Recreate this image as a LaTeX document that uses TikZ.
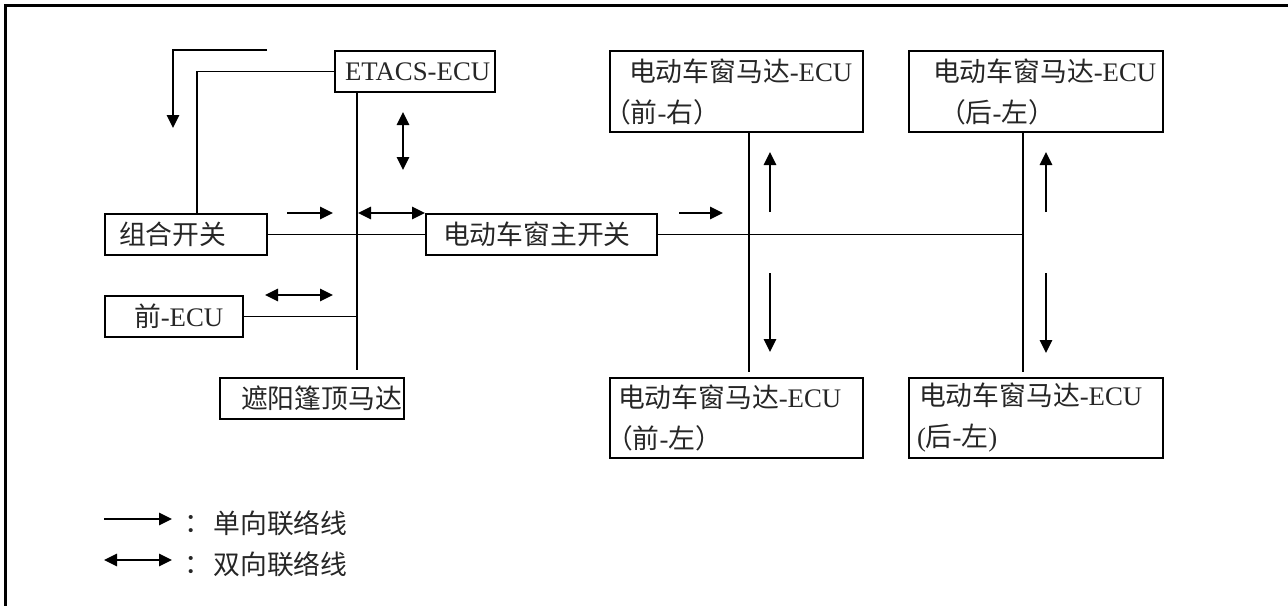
\documentclass[tikz,border=0pt]{standalone}
\usepackage{fontspec}
\setmainfont{Liberation Serif}
\newfontfamily\cjk{Noto Sans CJK SC}
\usetikzlibrary{arrows.meta}
\begin{document}
\begin{tikzpicture}[x=0.5pt,y=-0.5pt,
  box/.style={draw, line width=1pt, anchor=north west, inner xsep=0pt, inner ysep=0pt,
    align=left, text=black!85, font=\fontsize{13.4}{20.5}\selectfont},
  ln/.style={line width=0.9pt},
  ar/.style={line width=0.9pt, -{Triangle[length=6.5pt,width=6.2pt]}},
  dar/.style={line width=0.9pt, {Triangle[length=6.5pt,width=6.2pt]}-{Triangle[length=6.5pt,width=6.2pt]}},
  lbl/.style={inner sep=0pt, text=black!85, font=\fontsize{13.4}{15}\selectfont}]
\useasboundingbox (0,0) rectangle (1288,605);
% frame
\draw[line width=1.5pt] (5,610) -- (5,5) -- (1293,5);
% boxes
\node[box, text width=80pt, minimum height=20.5pt] (etacs) at (334,50) {\hspace*{5pt}ETACS-ECU};
\node[box, text width=81pt, minimum height=20.5pt] (zuhe) at (104,213) {\hspace*{7pt}{\cjk 组合开关}};
\node[box, text width=115.5pt, minimum height=20.5pt] (main) at (425,213) {\hspace*{8.5pt}{\cjk 电动车窗主开关}};
\node[box, text width=69pt, minimum height=20.5pt] (qian) at (104,295) {\hspace*{14.5pt}{\cjk 前}-ECU};
\node[box, text width=92pt, minimum height=20.5pt] (zheyang) at (219,377) {\hspace*{10.5pt}{\cjk 遮阳篷顶马达}};
\node[box, text width=126.5pt, minimum height=40.5pt] (fr) at (609,50)
  {\hspace*{9.5pt}{\cjk 电动车窗马达}-ECU\\\hspace*{-3pt}{\cjk （前}-{\cjk 右）}};
\node[box, text width=127pt, minimum height=40.5pt] (rlt) at (908,50)
  {\hspace*{12pt}{\cjk 电动车窗马达}-ECU\\\hspace*{15pt}{\cjk （后}-{\cjk 左）}};
\node[box, text width=126.5pt, minimum height=40pt] (fl) at (609,377)
  {\hspace*{4pt}{\cjk 电动车窗马达}-ECU\\\hspace*{-2pt}{\cjk （前}-{\cjk 左）}};
\node[box, text width=127pt, minimum height=40pt] (rlb) at (908,377)
  {\hspace*{5pt}{\cjk 电动车窗马达}-ECU\\\hspace*{4pt}({\cjk 后}-{\cjk 左})};
% helper coordinates
\coordinate (busB) at (357,370);
\coordinate (zt) at (197,0);
\coordinate (la) at (267,50);
\coordinate (lb) at (173,128);
\coordinate (vfr) at (749,372);
\coordinate (vrl) at (1023,372);
% connectors
\draw[ln] (busB |- etacs.south) -- (busB);
\draw[ln] (etacs.west) -| (zt |- zuhe.north);
\draw[ar] (la) -| (lb);
\draw[ln] (zuhe.east) -- (main.west);
\draw[ln] (qian.east) -- (busB |- qian.east);
\draw[ln] (main.east) -- (vrl |- main.east);
\draw[ln] (vfr |- fr.south) -- (vfr);
\draw[ln] (vrl |- rlt.south) -- (vrl);
% indicator arrows
\draw[ar] (287,213) -- (333,213);
\draw[dar] (358,213) -- (425,213);
\draw[dar] (403,112) -- (403,170);
\draw[dar] (265,295) -- (333,295);
\draw[ar] (679,213) -- (723,213);
\draw[ar] (770,212) -- (770,152);
\draw[ar] (770,273) -- (770,352);
\draw[ar] (1046,212) -- (1046,152);
\draw[ar] (1046,273) -- (1046,353);
% legend
\draw[ar] (104,519) -- (172,519);
\draw[dar] (104,560) -- (172,560);
\node[lbl] (c1) at (198,524) {\cjk ：};
\node[lbl, anchor=west] (t1) at (213,523) {\cjk 单向联络线};
\node[lbl] (c2) at (198,565) {\cjk ：};
\node[lbl, anchor=west] (t2) at (213,564) {\cjk 双向联络线};
\end{tikzpicture}
\end{document}
